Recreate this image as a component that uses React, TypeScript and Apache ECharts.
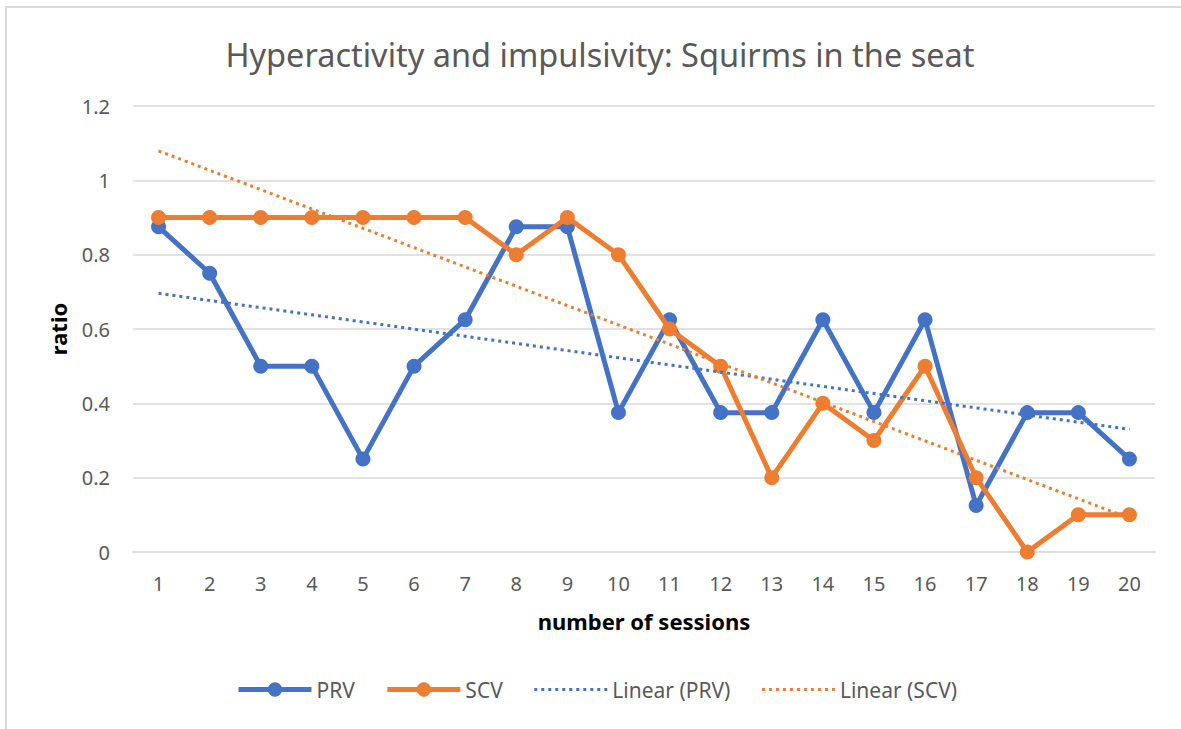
import React, { useEffect, useRef } from "react";
import * as echarts from "echarts";

const sessions = ["1","2","3","4","5","6","7","8","9","10","11","12","13","14","15","16","17","18","19","20"];
const prv = [0.875,0.75,0.5,0.5,0.25,0.5,0.625,0.875,0.875,0.375,0.625,0.375,0.375,0.625,0.375,0.625,0.125,0.375,0.375,0.25];
const scv = [0.9,0.9,0.9,0.9,0.9,0.9,0.9,0.8,0.9,0.8,0.6,0.5,0.2,0.4,0.3,0.5,0.2,0,0.1,0.1];
// trend line endpoints (session 1 and session 20)
const trendPrvEnds = [0.696, 0.33];
const trendScvEnds = [1.079, 0.091];
const yTicks = [0, 0.2, 0.4, 0.6, 0.8, 1, 1.2];

const BLUE = "#4472C4";
const ORANGE = "#ED7D31";
const FONT = "'Noto Sans', 'Open Sans', sans-serif";

export default function App() {
  const ref = useRef<HTMLDivElement>(null);
  useEffect(() => {
    if (!ref.current) return;
    const chart = echarts.init(ref.current, undefined, { renderer: "svg" });
    const last = sessions.length - 1;
    chart.setOption({
      animation: false,
      backgroundColor: "#fff",
      textStyle: { fontFamily: FONT },
      title: {
        text: "Hyperactivity and impulsivity: Squirms in the seat",
        left: 595,
        textAlign: "center",
        top: 33,
        textStyle: { fontFamily: FONT, fontSize: 32.5, fontWeight: "normal", color: "#595959" },
      },
      graphic: [
        {
          type: "rect",
          shape: { x: 6, y: 7, width: 1300, height: 900 },
          style: { fill: "none", stroke: "#d9d9d9", lineWidth: 2 },
          silent: true,
          z: -1,
        },
      ],
      grid: { left: 133, right: 26, top: 106, bottom: 177 },
      legend: {
        bottom: 24,
        left: 231,
        itemWidth: 73,
        itemHeight: 18,
        itemGap: 30,
        textStyle: { fontFamily: FONT, fontSize: 21, color: "#595959" },
        data: [
          { name: "PRV", lineStyle: { width: 5 } },
          { name: "SCV", lineStyle: { width: 5 } },
          { name: "Linear (PRV)", lineStyle: { width: 3, type: [3, 4] }, itemStyle: { opacity: 0 } },
          { name: "Linear (SCV)", lineStyle: { width: 3, type: [3, 4] }, itemStyle: { opacity: 0 } },
        ],
      },
      xAxis: {
        type: "category",
        data: sessions,
        boundaryGap: true,
        name: "number of sessions",
        nameLocation: "middle",
        nameGap: 58,
        nameTextStyle: { fontFamily: FONT, fontSize: 22, fontWeight: "bold", color: "#000" },
        axisLine: { lineStyle: { color: "#d9d9d9", width: 1.5 } },
        axisTick: { show: false },
        axisLabel: { fontFamily: FONT, fontSize: 20, color: "#595959", margin: 21 },
      },
      yAxis: {
        type: "value",
        min: yTicks[0],
        max: yTicks[yTicks.length - 1],
        interval: 0.2,
        name: "ratio",
        nameLocation: "middle",
        nameGap: 64,
        nameTextStyle: { fontFamily: FONT, fontSize: 22, fontWeight: "bold", color: "#000" },
        axisLine: { show: false },
        axisTick: { show: false },
        splitLine: { lineStyle: { color: "#d9d9d9", width: 1.5 } },
        axisLabel: {
          fontFamily: FONT,
          fontSize: 20,
          color: "#595959",
          margin: 23,
          formatter: (v: number) => String(Math.round(v * 10) / 10),
        },
      },
      series: [
        {
          name: "PRV",
          type: "line",
          data: prv,
          symbol: "circle",
          symbolSize: 15,
          lineStyle: { color: BLUE, width: 5 },
          itemStyle: { color: BLUE },
          z: 3,
        },
        {
          name: "SCV",
          type: "line",
          data: scv,
          symbol: "circle",
          symbolSize: 15,
          lineStyle: { color: ORANGE, width: 5 },
          itemStyle: { color: ORANGE },
          z: 4,
        },
        {
          name: "Linear (PRV)",
          type: "line",
          data: [[0, trendPrvEnds[0]], [last, trendPrvEnds[1]]],
          symbol: "none",
          lineStyle: { color: BLUE, width: 3, type: [3, 4] },
          itemStyle: { color: BLUE },
          z: 5,
        },
        {
          name: "Linear (SCV)",
          type: "line",
          data: [[0, trendScvEnds[0]], [last, trendScvEnds[1]]],
          symbol: "none",
          lineStyle: { color: ORANGE, width: 3, type: [3, 4] },
          itemStyle: { color: ORANGE },
          z: 5,
        },
      ],
    });
    return () => chart.dispose();
  }, []);
  return (
    <div
      ref={ref}
      style={{ position: "fixed", left: 0, top: 0, width: 1181, height: 729 }}
    />
  );
}
